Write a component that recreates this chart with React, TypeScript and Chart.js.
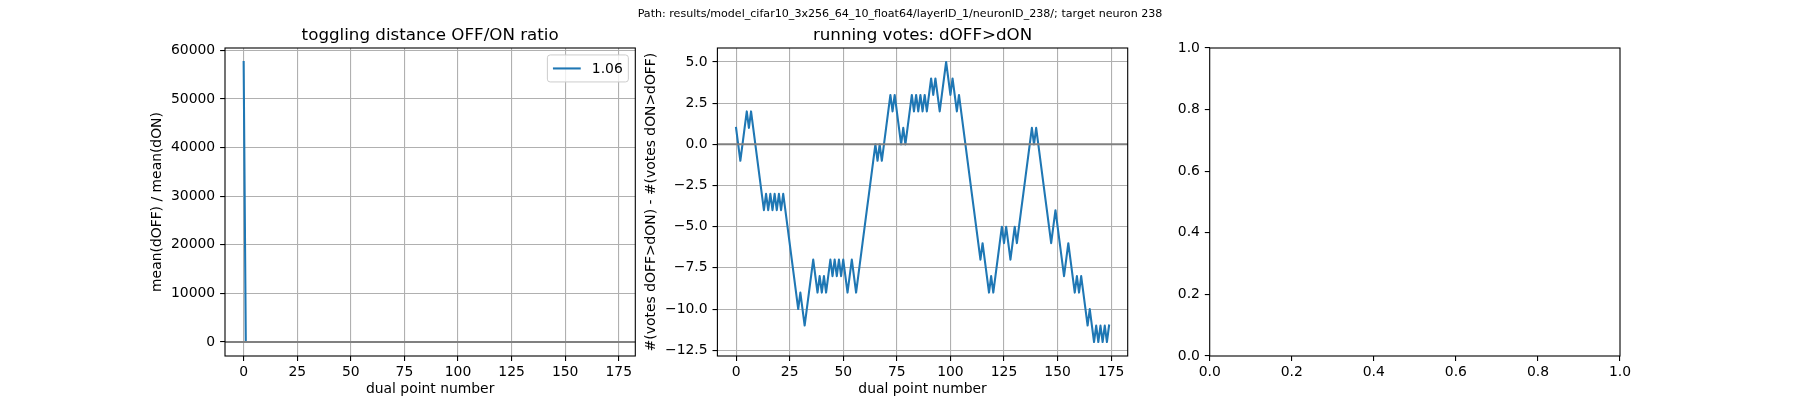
import { useEffect, useRef } from "react";
import { Chart, registerables } from "chart.js";

Chart.register(...registerables);

const FONT = '"DejaVu Sans", "Noto Sans", sans-serif';
const BLUE = "#1f77b4";

const suptitle =
  "Path: results/model_cifar10_3x256_64_10_float64/layerID_1/neuronID_238/; target neuron 238";
const ratioTitle = "toggling distance OFF/ON ratio";
const votesTitle = "running votes: dOFF>dON";
const xLabel = "dual point number";
const ratioYLabel = "mean(dOFF) / mean(dON)";
const votesYLabel = "#(votes dOFF>dON) - #(votes dON>dOFF)";
const ratioLegend = "1.06";

// ratio per dual point: one huge value at 0, the rest sit around 1 (hidden under the 0 line)
const ratioValues = [
  57600, 1.02, 0.98, 1.05, 1.1, 0.96, 1.01, 1.07, 0.99, 1.03,
  1.08, 0.95, 1.04, 1.0, 1.06, 1.12, 0.97, 1.02, 1.05, 0.99,
  1.03, 1.09, 1.01, 0.98, 1.04, 1.06, 1.0, 1.02, 1.11, 0.97,
  1.05, 1.03, 0.99, 1.07, 1.02, 1.04, 0.96, 1.08, 1.01, 1.03,
  1.06, 0.98, 1.02, 1.05, 1.09, 1.0, 1.03, 0.97, 1.04, 1.07,
  1.01, 1.05, 0.99, 1.02, 1.1, 1.03, 0.98, 1.06, 1.04, 1.0,
  1.02, 1.08, 0.97, 1.05, 1.03, 1.01, 1.06, 0.99, 1.04, 1.02,
  1.07, 1.0, 1.03, 1.05, 0.98, 1.09, 1.02, 1.04, 1.01, 1.06,
  0.97, 1.03, 1.05, 1.02, 1.08, 0.99, 1.04, 1.01, 1.06, 1.03,
  1.0, 1.05, 1.02, 0.98, 1.07, 1.04, 1.01, 1.03, 1.09, 0.99,
  1.05, 1.02, 1.06, 1.0, 1.04, 0.97, 1.03, 1.08, 1.01, 1.05,
  1.02, 0.99, 1.06, 1.04, 1.0, 1.03, 1.07, 0.98, 1.05, 1.02,
  1.04, 1.1, 1.01, 0.99, 1.06, 1.03, 1.0, 1.05, 1.02, 1.08,
  0.97, 1.04, 1.01, 1.06, 1.03, 0.99, 1.05, 1.02, 1.07, 1.0,
  1.04, 1.02, 0.98, 1.06, 1.03, 1.09, 1.01, 1.05, 0.99, 1.04,
  1.02, 1.07, 1.0, 1.03, 1.05, 0.98, 1.06, 1.02, 1.04, 1.01,
  1.08, 0.99, 1.03, 1.05, 1.02, 1.06, 1.0, 1.04, 1.03, 0.97,
  1.05, 1.02, 1.06, 1.01, 1.04,
];

// running vote difference per dual point
const votesValues = [
  1, 0, -1, 0, 1, 2, 1, 2, 1, 0,
  -1, -2, -3, -4, -3, -4, -3, -4, -3, -4,
  -3, -4, -3, -4, -5, -6, -7, -8, -9, -10,
  -9, -10, -11, -10, -9, -8, -7, -8, -9, -8,
  -9, -8, -9, -8, -7, -8, -7, -8, -7, -8,
  -7, -8, -9, -8, -7, -8, -9, -8, -7, -6,
  -5, -4, -3, -2, -1, 0, -1, 0, -1, 0,
  1, 2, 3, 2, 3, 2, 1, 0, 1, 0,
  1, 2, 3, 2, 3, 2, 3, 2, 3, 2,
  3, 4, 3, 4, 3, 2, 3, 4, 5, 4,
  3, 4, 3, 2, 3, 2, 1, 0, -1, -2,
  -3, -4, -5, -6, -7, -6, -7, -8, -9, -8,
  -9, -8, -7, -6, -5, -6, -5, -6, -7, -6,
  -5, -6, -5, -4, -3, -2, -1, 0, 1, 0,
  1, 0, -1, -2, -3, -4, -5, -6, -5, -4,
  -5, -6, -7, -8, -7, -6, -7, -8, -9, -8,
  -9, -8, -9, -10, -11, -10, -11, -12, -11, -12,
  -11, -12, -11, -12, -11,
];

const pointTicks = [0, 25, 50, 75, 100, 125, 150, 175];
const ratioTicks = [0, 10000, 20000, 30000, 40000, 50000, 60000];
const votesTicks = [-12.5, -10, -7.5, -5, -2.5, 0, 2.5, 5];
const unitTicks = [0, 0.2, 0.4, 0.6, 0.8, 1];

// figure geometry (matplotlib default subplot params for 1x3 at 1800x400)
const W = 1800;
const H = 400;
const AX_TOP = 48;
const AX_BOTTOM = 356;
const AX_W = 410.3;
const AX_LEFT = [225, 717.4, 1209.7];
const XAXIS_H = H - AX_BOTTOM;

const tickFont = { family: FONT, size: 13.9 };

const minus = (s: string) => s.replace("-", "\u2212");

function padded(values: number[], extra: number[] = []) {
  const lo = Math.min(...values, ...extra);
  const hi = Math.max(...values, ...extra);
  const m = (hi - lo) * 0.05;
  return { min: lo - m, max: hi + m };
}

function scale(o: {
  ticks: number[];
  fmt: (v: number) => string;
  min: number;
  max: number;
  size: number;
  horizontal: boolean;
  title?: string;
  grid: boolean;
}): any {
  return {
    type: "linear",
    min: o.min,
    max: o.max,
    afterBuildTicks: (s: any) => {
      s.ticks = o.ticks.map((v) => ({ value: v }));
    },
    afterFit: (s: any) => {
      if (o.horizontal) {
        s.height = o.size;
        s.paddingLeft = 0;
        s.paddingRight = 0;
      } else {
        s.width = o.size;
        s.paddingTop = 0;
        s.paddingBottom = 0;
      }
    },
    ticks: {
      callback: (v: any) => o.fmt(Number(v)),
      font: tickFont,
      color: "#000",
      padding: o.horizontal ? 3 : 4.9,
      maxRotation: 0,
      autoSkip: false,
    },
    grid: {
      display: true,
      drawOnChartArea: o.grid,
      color: "#b0b0b0",
      lineWidth: 1.1,
      tickColor: "#000",
      tickWidth: 1.1,
      tickLength: 4.9,
    },
    border: { display: false },
    title: o.title
      ? {
          display: true,
          text: o.title,
          font: tickFont,
          color: "#000",
          padding: o.horizontal ? { top: 0, bottom: 2 } : { top: 0, bottom: 0 },
        }
      : { display: false },
  };
}

const framePlugin = {
  id: "frame",
  afterDraw(chart: any) {
    const { ctx, chartArea: a } = chart;
    ctx.save();
    ctx.strokeStyle = "#000";
    ctx.lineWidth = 1.1;
    ctx.strokeRect(a.left, a.top, a.right - a.left, a.bottom - a.top);
    ctx.restore();
  },
};

const zeroLinePlugin = {
  id: "zeroLine",
  afterDatasetsDraw(chart: any) {
    const { ctx, chartArea: a } = chart;
    const y = chart.scales.y.getPixelForValue(0);
    ctx.save();
    ctx.strokeStyle = "#808080";
    ctx.lineWidth = 2;
    ctx.beginPath();
    ctx.moveTo(a.left, y);
    ctx.lineTo(a.right, y);
    ctx.stroke();
    ctx.restore();
  },
};

function titlePlugin(text: string) {
  return {
    id: "axTitle",
    afterDraw(chart: any) {
      const { ctx, chartArea: a } = chart;
      ctx.save();
      ctx.font = `16.7px ${FONT}`;
      ctx.fillStyle = "#000";
      ctx.textAlign = "center";
      ctx.textBaseline = "alphabetic";
      ctx.fillText(text, (a.left + a.right) / 2, a.top - 8.3);
      ctx.restore();
    },
  };
}

const suptitlePlugin = {
  id: "suptitle",
  afterDraw(chart: any) {
    const { ctx } = chart;
    ctx.save();
    ctx.font = `11.1px ${FONT}`;
    ctx.fillStyle = "#000";
    ctx.textAlign = "center";
    ctx.textBaseline = "alphabetic";
    ctx.fillText(suptitle, W / 2, 16.5);
    ctx.restore();
  },
};

const legendPlugin = {
  id: "mplLegend",
  afterDraw(chart: any) {
    const { ctx, chartArea: a } = chart;
    const fs = 13.9;
    ctx.save();
    ctx.font = `${fs}px ${FONT}`;
    const tw = ctx.measureText(ratioLegend).width;
    const pad = 0.4 * fs;
    const handle = 2 * fs;
    const gap = 0.8 * fs;
    const bw = pad + handle + gap + tw + pad;
    const bh = 27;
    const right = a.right - 0.5 * fs;
    const top = a.top + 0.5 * fs;
    const left = right - bw;
    ctx.beginPath();
    ctx.roundRect(left, top, bw, bh, 2.8);
    ctx.fillStyle = "rgba(255,255,255,0.8)";
    ctx.fill();
    ctx.strokeStyle = "#cccccc";
    ctx.lineWidth = 1;
    ctx.stroke();
    const cy = top + bh / 2;
    ctx.strokeStyle = BLUE;
    ctx.lineWidth = 2.08;
    ctx.beginPath();
    ctx.moveTo(left + pad, cy);
    ctx.lineTo(left + pad + handle, cy);
    ctx.stroke();
    ctx.fillStyle = "#000";
    ctx.textAlign = "left";
    ctx.textBaseline = "middle";
    ctx.fillText(ratioLegend, left + pad + handle + gap, cy + 0.5);
    ctx.restore();
  },
};

function lineDataset(values: number[]) {
  return {
    data: values.map((v, i) => ({ x: i, y: v })),
    borderColor: BLUE,
    borderWidth: 2.08,
    pointRadius: 0,
    tension: 0,
    fill: false,
    borderJoinStyle: "round" as const,
    borderCapStyle: "square" as const,
  };
}

function baseOptions(left: number, yWidth: number, x: any, y: any): any {
  return {
    animation: false,
    responsive: false,
    events: [],
    layout: {
      padding: {
        left: left - yWidth,
        right: W - (left + AX_W),
        top: AX_TOP,
        bottom: 0,
      },
    },
    plugins: { legend: { display: false }, tooltip: { enabled: false }, title: { display: false } },
    scales: { x, y },
  };
}

export default function App() {
  const c1 = useRef<HTMLCanvasElement | null>(null);
  const c2 = useRef<HTMLCanvasElement | null>(null);
  const c3 = useRef<HTMLCanvasElement | null>(null);

  useEffect(() => {
    if (!c1.current || !c2.current || !c3.current) return;
    const xr = padded(ratioValues.map((_, i) => i));
    const intFmt = (v: number) => minus(String(Math.round(v)));
    const decFmt = (v: number) => minus(v.toFixed(1));

    const r = padded(ratioValues, [0]);
    const v = padded(votesValues);

    const ratioChart = new Chart(c1.current, {
      type: "line",
      data: { datasets: [lineDataset(ratioValues)] },
      options: baseOptions(
        AX_LEFT[0],
        76,
        scale({ ticks: pointTicks, fmt: intFmt, min: xr.min, max: xr.max, size: XAXIS_H, horizontal: true, title: xLabel, grid: true }),
        scale({ ticks: ratioTicks, fmt: intFmt, min: r.min, max: r.max, size: 76, horizontal: false, title: ratioYLabel, grid: true })
      ),
      plugins: [zeroLinePlugin, framePlugin, titlePlugin(ratioTitle), legendPlugin],
    });

    const votesChart = new Chart(c2.current, {
      type: "line",
      data: { datasets: [lineDataset(votesValues)] },
      options: baseOptions(
        AX_LEFT[1],
        74.2,
        scale({ ticks: pointTicks, fmt: intFmt, min: xr.min, max: xr.max, size: XAXIS_H, horizontal: true, title: xLabel, grid: true }),
        scale({ ticks: votesTicks, fmt: decFmt, min: v.min, max: v.max, size: 74.2, horizontal: false, title: votesYLabel, grid: true })
      ),
      plugins: [zeroLinePlugin, framePlugin, titlePlugin(votesTitle), suptitlePlugin],
    });

    const emptyChart = new Chart(c3.current, {
      type: "line",
      data: { datasets: [] },
      options: baseOptions(
        AX_LEFT[2],
        60,
        scale({ ticks: unitTicks, fmt: decFmt, min: 0, max: 1, size: XAXIS_H, horizontal: true, grid: false }),
        scale({ ticks: unitTicks, fmt: decFmt, min: 0, max: 1, size: 60, horizontal: false, grid: false })
      ),
      plugins: [framePlugin],
    });

    return () => {
      ratioChart.destroy();
      votesChart.destroy();
      emptyChart.destroy();
    };
  }, []);

  const canvasStyle: React.CSSProperties = { position: "absolute", left: 0, top: 0, width: W, height: H };

  return (
    <div style={{ position: "absolute", left: 0, top: 0, width: W, height: H, background: "#fff" }}>
      <canvas ref={c1} width={W} height={H} style={canvasStyle} />
      <canvas ref={c2} width={W} height={H} style={canvasStyle} />
      <canvas ref={c3} width={W} height={H} style={canvasStyle} />
    </div>
  );
}
